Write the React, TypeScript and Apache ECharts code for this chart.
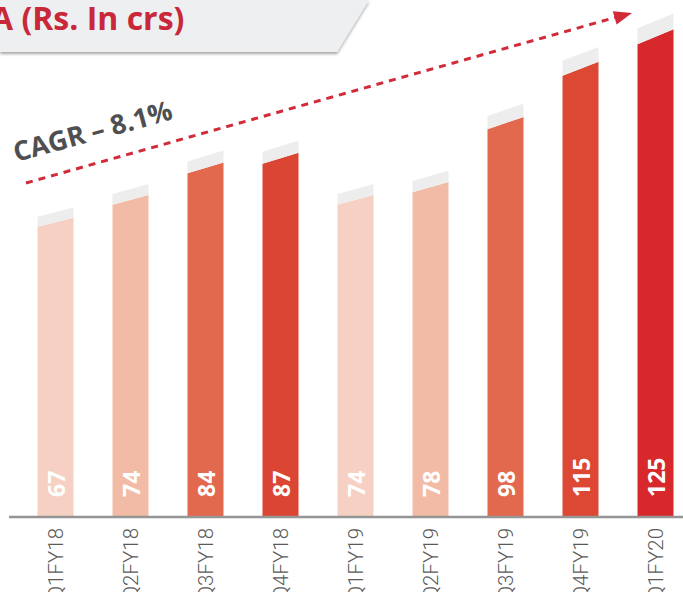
import React, { useEffect, useRef } from "react";
import * as echarts from "echarts";

const categories = ["Q1FY18", "Q2FY18", "Q3FY18", "Q4FY18", "Q1FY19", "Q2FY19", "Q3FY19", "Q4FY19", "Q1FY20"];
const values = [67, 74, 84, 87, 74, 78, 98, 115, 125];
const barColors = ["#F5D0C3", "#F2BBA5", "#E2694E", "#DB4533", "#F5D0C3", "#F2BBA5", "#E2694E", "#DC4833", "#D7282C"];
const titleText = "A (Rs. In crs)";
const cagrText = "CAGR \u2013 8.1%";

const Y_MIN = -25.2;
const Y_MAX = 136.5;

export default function App() {
  const ref = useRef<HTMLDivElement>(null);
  useEffect(() => {
    if (!ref.current) return;
    const chart = echarts.init(ref.current, null, { renderer: "svg" });
    const option: any = {
      animation: false,
      backgroundColor: "#ffffff",
      grid: { left: 18, right: -10, top: 0, bottom: 75, containLabel: false, outerBoundsMode: "none" },
      xAxis: {
        type: "category",
        data: categories,
        axisLine: { show: false },
        axisTick: { show: false },
        axisLabel: {
          rotate: 90,
          margin: 11,
          fontSize: 20.5,
          color: "#5A5A5A",
          fontFamily: "Roboto",
          fontWeight: 300,
        },
      },
      yAxis: { type: "value", min: Y_MIN, max: Y_MAX, show: false, splitLine: { show: false } },
      series: [
        {
          type: "custom",
          data: values.map((v, i) => [i, v]),
          encode: { x: 0, y: 1 },
          renderItem: (params: any, api: any) => {
            const i = api.value(0);
            const v = api.value(1);
            const top = api.coord([i, v]);
            const bottom = api.coord([i, Y_MIN])[1];
            const w = 36;
            const x0 = top[0] - w / 2;
            const x1 = top[0] + w / 2;
            const h = bottom - top[1];
            const s = 0.031 * h;
            const cap = 0.031 * h + 1;
            const yl = top[1] + s / 2;
            const yr = top[1] - s / 2;
            return {
              type: "group",
              children: [
                {
                  type: "polygon",
                  shape: { points: [[x0, bottom], [x1, bottom], [x1, yr], [x0, yl]] },
                  style: { fill: barColors[params.dataIndex] },
                },
                {
                  type: "polygon",
                  shape: { points: [[x0, yl], [x1, yr], [x1, yr - cap], [x0, yl - cap]] },
                  style: { fill: "#EDEDED" },
                },
                {
                  type: "text",
                  x: top[0],
                  y: bottom - 20,
                  rotation: Math.PI / 2,
                  style: {
                    text: String(v),
                    fill: "#ffffff",
                    font: 'bold 23px "Noto Sans"',
                    align: "left",
                    verticalAlign: "middle",
                  },
                },
              ],
            };
          },
        },
      ],
      graphic: [
        {
          type: "polygon",
          shape: { points: [[0, 0], [369, 0], [337, 52], [0, 52]] },
          style: { fill: "#EEEFF1", shadowBlur: 3, shadowOffsetY: 2, shadowColor: "rgba(0,0,0,0.35)" },
          z: 10,
        },
        {
          type: "text",
          x: -9,
          y: 17,
          style: {
            text: titleText,
            fill: "#C8283A",
            font: 'bold 32px "Open Sans"',
            align: "left",
            verticalAlign: "middle",
          },
          z: 11,
        },
        {
          type: "line",
          shape: { x1: 26, y1: 183, x2: 617, y2: 17 },
          style: { stroke: "#D12B3A", lineWidth: 3, lineDash: [7, 6] },
          z: 10,
        },
        {
          type: "polygon",
          shape: { points: [[632, 13], [616.6, 24.6], [612.8, 11.2]] },
          style: { fill: "#D12B3A" },
          z: 10,
        },
        {
          type: "text",
          x: 17,
          y: 165,
          rotation: (15.3 * Math.PI) / 180,
          style: {
            text: cagrText,
            fill: "#4F4F51",
            font: 'bold 27px "Open Sans"',
            align: "left",
            verticalAlign: "bottom",
          },
          z: 10,
        },
        {
          type: "line",
          shape: { x1: 9, y1: 517, x2: 683, y2: 517 },
          style: { stroke: "#959595", lineWidth: 2.5 },
          z: 10,
        },
      ],
    };
    chart.setOption(option);
    return () => chart.dispose();
  }, []);
  return <div ref={ref} style={{ width: 683, height: 592, position: "absolute", left: 0, top: 0 }} />;
}
